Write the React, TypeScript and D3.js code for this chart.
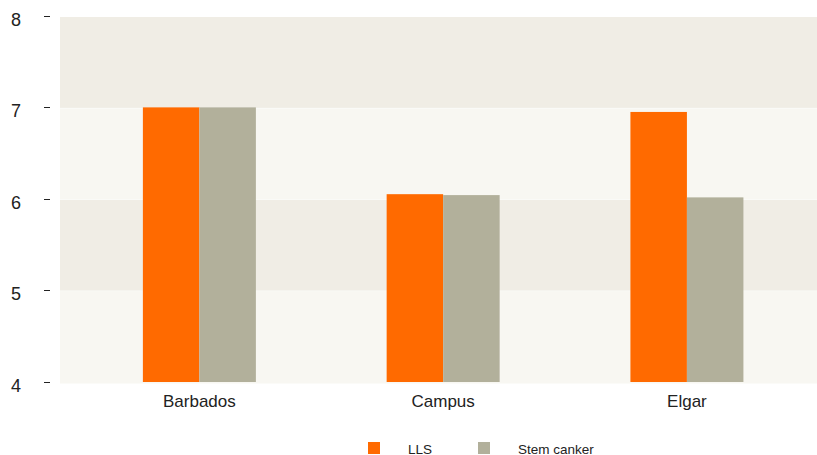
import { useEffect, useRef } from 'react';
import * as d3 from 'd3';

const sites = ['Barbados', 'Campus', 'Elgar'];
const seriesNames = ['LLS', 'Stem canker'];
const llsValues = [7.0, 6.05, 6.95];
const stemCankerValues = [7.0, 6.04, 6.015];
const yTicks = [4, 5, 6, 7, 8];
const seriesColors = ['#ff6a00', '#b2b09b'];

export default function App() {
  const svgRef = useRef<SVGSVGElement>(null);

  useEffect(() => {
    document.body.style.margin = '0';
    if (!svgRef.current) return;

    const width = 817;
    const height = 455;
    const plot = { left: 60, right: 817, top: 16, bottom: 381.5 };
    const font = '"Liberation Sans", Arial, Helvetica, sans-serif';

    const svg = d3.select(svgRef.current);
    svg.selectAll('*').remove();
    svg.attr('width', width).attr('height', height).attr('viewBox', `0 0 ${width} ${height}`);

    const y = d3.scaleLinear().domain([4, 8]).range([plot.bottom, plot.top]);

    // group positions (slightly inset from the plot area)
    const x = d3.scaleBand<string>().domain(sites).range([77.5, 808.8]);
    const groupWidth = 113;
    const x1 = d3.scaleBand<string>().domain(seriesNames).range([0, groupWidth]);

    // alternating background bands
    const bands = d3.pairs(yTicks);
    svg
      .append('g')
      .selectAll('rect')
      .data(bands)
      .enter()
      .append('rect')
      .attr('x', plot.left)
      .attr('width', plot.right - plot.left)
      .attr('y', (d) => y(d[1]) + 1)
      .attr('height', (d, i) => y(d[0]) - y(d[1]) - (i === 0 ? -1 : 0.5))
      .attr('fill', (d, i) => (i % 2 === 0 ? '#f8f7f2' : '#f0ede5'));

    // bars
    const series = [llsValues, stemCankerValues];
    const groups = svg
      .append('g')
      .selectAll('g')
      .data(sites)
      .enter()
      .append('g')
      .attr('transform', (d) => `translate(${(x(d) ?? 0) + x.bandwidth() / 2 - groupWidth / 2},0)`);

    groups
      .selectAll('rect')
      .data((d, i) => seriesNames.map((name, j) => ({ name, value: series[j][i], color: seriesColors[j] })))
      .enter()
      .append('rect')
      .attr('x', (d) => x1(d.name) ?? 0)
      .attr('width', x1.bandwidth())
      .attr('y', (d) => y(d.value))
      .attr('height', (d) => y(4) + 0.5 - y(d.value))
      .attr('fill', (d) => d.color);

    // y axis: small tick marks and labels
    const yAxis = svg.append('g');
    yAxis
      .selectAll('line')
      .data(yTicks)
      .enter()
      .append('line')
      .attr('x1', 44)
      .attr('x2', 50)
      .attr('y1', (d) => Math.round(y(d)) + 0.5)
      .attr('y2', (d) => Math.round(y(d)) + 0.5)
      .attr('stroke', '#222')
      .attr('stroke-width', 1);

    yAxis
      .selectAll('text')
      .data(yTicks)
      .enter()
      .append('text')
      .attr('x', 21)
      .attr('y', (d) => y(d) + 10)
      .attr('text-anchor', 'end')
      .attr('fill', '#222')
      .style('font-family', font)
      .style('font-size', '18px')
      .text((d) => d);

    // x labels
    svg
      .append('g')
      .selectAll('text')
      .data(sites)
      .enter()
      .append('text')
      .attr('x', (d) => (x(d) ?? 0) + x.bandwidth() / 2)
      .attr('y', 407)
      .attr('text-anchor', 'middle')
      .attr('fill', '#222')
      .style('font-family', font)
      .style('font-size', '17px')
      .text((d) => d);

    // legend
    const legendX = [368, 478];
    const legend = svg
      .append('g')
      .selectAll('g')
      .data(seriesNames)
      .enter()
      .append('g')
      .attr('transform', (d, i) => `translate(${legendX[i]},442)`);

    legend
      .append('rect')
      .attr('width', 12)
      .attr('height', 12)
      .attr('fill', (d, i) => seriesColors[i]);

    legend
      .append('text')
      .attr('x', 40)
      .attr('y', 11.5)
      .attr('fill', '#222')
      .style('font-family', font)
      .style('font-size', '13.5px')
      .text((d) => d);
  }, []);

  return <svg ref={svgRef} style={{ display: 'block' }} />;
}
